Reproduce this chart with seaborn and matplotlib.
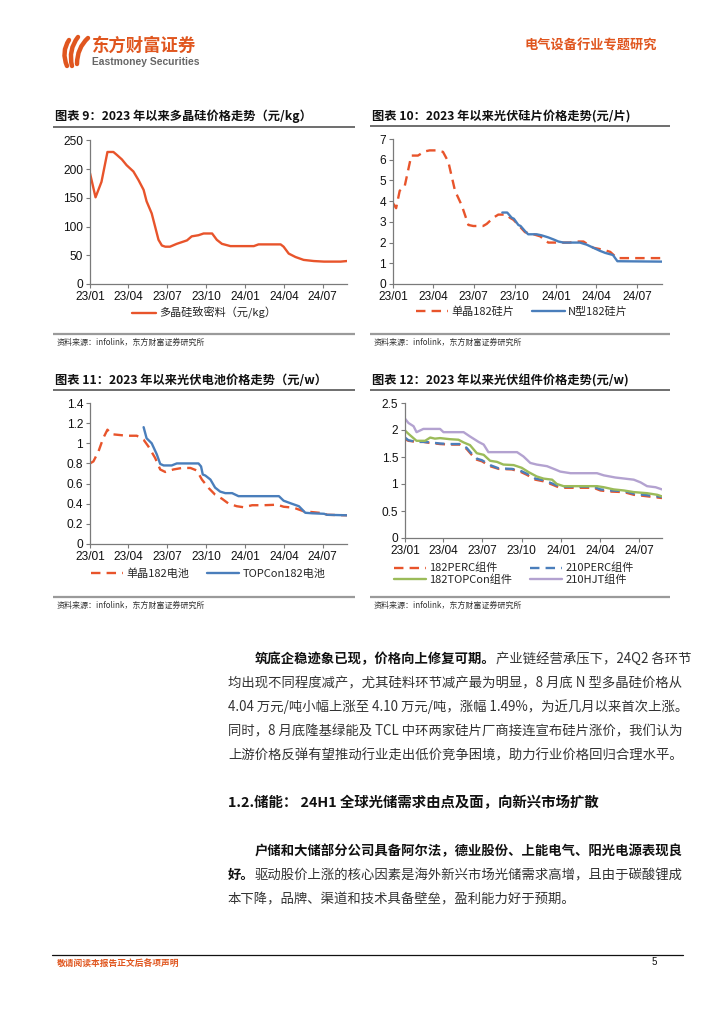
import matplotlib
matplotlib.use('Agg')
import matplotlib.pyplot as plt
import matplotlib.dates as mdates
from matplotlib.path import Path
from matplotlib.patches import PathPatch
import pandas as pd
import seaborn as sns

# ---------------- data ----------------
poly_dates = ['2023-01-01', '2023-01-14', '2023-01-28', '2023-02-11', '2023-02-25', '2023-03-05',
              '2023-03-17', '2023-03-28', '2023-04-13', '2023-04-25', '2023-05-07', '2023-05-14',
              '2023-05-26', '2023-06-03', '2023-06-11', '2023-06-19', '2023-06-27', '2023-07-08',
              '2023-07-24', '2023-08-17', '2023-08-28', '2023-09-13', '2023-09-25', '2023-10-15',
              '2023-10-26', '2023-11-07', '2023-11-27', '2024-01-21', '2024-02-01', '2024-03-24',
              '2024-03-31', '2024-04-12', '2024-04-28', '2024-05-17', '2024-06-10', '2024-07-04',
              '2024-08-12', '2024-08-27']
poly_price = [193, 151, 178, 230, 230, 225, 217, 207, 196, 181, 164, 144, 123, 100, 77, 67, 65, 65,
              70, 76, 83, 85, 88, 88, 77, 70, 66, 66, 69, 69, 65, 53, 47, 42, 40, 39, 39, 40]

wafer_p_dates = ['2023-01-01', '2023-01-08', '2023-01-16', '2023-01-27', '2023-02-11', '2023-02-26',
                 '2023-03-13', '2023-03-24', '2023-04-08', '2023-04-23', '2023-05-05', '2023-05-20',
                 '2023-06-04', '2023-06-19', '2023-06-30', '2023-07-22', '2023-07-30', '2023-08-14',
                 '2023-08-25', '2023-09-13', '2023-09-20', '2023-09-28', '2023-10-09', '2023-10-24',
                 '2023-11-12', '2023-11-27', '2023-12-15', '2024-01-03', '2024-02-02', '2024-02-09',
                 '2024-03-03', '2024-03-10', '2024-03-25', '2024-04-17', '2024-05-02', '2024-05-17',
                 '2024-08-26']
wafer_p_price = [3.9, 3.66, 4.5, 4.7, 6.2, 6.2, 6.4, 6.45, 6.45, 6.38, 5.9, 4.5, 3.8, 2.85, 2.8, 2.8,
                 2.9, 3.2, 3.35, 3.35, 3.2, 3.1, 2.85, 2.5, 2.4, 2.3, 2.0, 2.0, 2.0, 2.05, 2.05, 1.95,
                 1.75, 1.65, 1.55, 1.25, 1.25]
wafer_n_dates = ['2023-09-03', '2023-09-14', '2023-09-24', '2023-09-29', '2023-10-09', '2023-10-14',
                 '2023-10-24', '2023-10-31', '2023-11-19', '2023-11-30', '2023-12-15', '2023-12-27',
                 '2024-01-07', '2024-01-18', '2024-02-24', '2024-03-10', '2024-03-25', '2024-04-09',
                 '2024-04-21', '2024-05-08', '2024-05-18', '2024-08-26']
wafer_n_price = [3.45, 3.45, 3.2, 3.15, 2.85, 2.8, 2.55, 2.4, 2.4, 2.35, 2.25, 2.15, 2.05, 2.0, 2.0,
                 1.9, 1.75, 1.6, 1.5, 1.4, 1.1, 1.08]

cell_p_dates = ['2023-01-01', '2023-01-09', '2023-01-21', '2023-02-01', '2023-02-11', '2023-02-21',
                '2023-03-05', '2023-03-28', '2023-04-21', '2023-05-07', '2023-05-18', '2023-06-03',
                '2023-06-15', '2023-06-27', '2023-07-16', '2023-08-05', '2023-08-25', '2023-09-09',
                '2023-09-21', '2023-10-07', '2023-10-22', '2023-11-07', '2023-11-23', '2023-12-12',
                '2023-12-28', '2024-01-17', '2024-02-13', '2024-03-16', '2024-03-31', '2024-04-24',
                '2024-05-17', '2024-07-04', '2024-07-11', '2024-08-27']
cell_p_price = [0.80, 0.82, 0.92, 1.05, 1.135, 1.09, 1.085, 1.075, 1.075, 1.035, 0.97, 0.855, 0.74,
                0.715, 0.74, 0.755, 0.755, 0.73, 0.64, 0.555, 0.49, 0.45, 0.40, 0.375, 0.365, 0.385,
                0.385, 0.39, 0.37, 0.36, 0.325, 0.305, 0.29, 0.285]
cell_t_dates = ['2023-05-07', '2023-05-14', '2023-05-26', '2023-06-07', '2023-06-15', '2023-06-23',
                '2023-07-12', '2023-07-24', '2023-09-13', '2023-09-19', '2023-09-23', '2023-09-29',
                '2023-10-11', '2023-10-22', '2023-11-03', '2023-11-15', '2023-12-01', '2023-12-16',
                '2024-01-01', '2024-03-20', '2024-03-31', '2024-04-16', '2024-05-06', '2024-05-21',
                '2024-06-06', '2024-07-04', '2024-07-11', '2024-08-27']
cell_t_price = [1.16, 1.05, 1.0, 0.89, 0.795, 0.78, 0.78, 0.80, 0.80, 0.77, 0.69, 0.68, 0.64, 0.56,
                0.52, 0.505, 0.505, 0.475, 0.475, 0.475, 0.43, 0.405, 0.375, 0.31, 0.305, 0.30, 0.29,
                0.285]

perc_dates = ['2023-01-01', '2023-01-09', '2023-01-28', '2023-02-13', '2023-03-01', '2023-03-24',
              '2023-04-16', '2023-05-10', '2023-05-25', '2023-06-06', '2023-06-18', '2023-06-30',
              '2023-07-19', '2023-08-08', '2023-09-08', '2023-09-27', '2023-10-13', '2023-11-02',
              '2023-11-21', '2023-12-11', '2023-12-26', '2024-01-07', '2024-03-17', '2024-04-02',
              '2024-04-25', '2024-05-27', '2024-06-19', '2024-07-12', '2024-08-13', '2024-08-24']
perc182_price = [1.83, 1.80, 1.78, 1.78, 1.76, 1.74, 1.73, 1.73, 1.65, 1.54, 1.45, 1.42, 1.33, 1.28,
                 1.27, 1.23, 1.17, 1.08, 1.05, 0.99, 0.94, 0.93, 0.93, 0.88, 0.86, 0.85, 0.80, 0.78,
                 0.75, 0.74]
perc210_price = [1.86, 1.81, 1.78, 1.78, 1.77, 1.75, 1.74, 1.74, 1.67, 1.56, 1.47, 1.44, 1.35, 1.29,
                 1.28, 1.25, 1.19, 1.10, 1.07, 1.01, 0.96, 0.95, 0.95, 0.90, 0.88, 0.87, 0.82, 0.80,
                 0.77, 0.76]
topcon_dates = ['2023-01-01', '2023-01-09', '2023-01-28', '2023-02-17', '2023-03-01', '2023-03-12',
                '2023-03-24', '2023-04-16', '2023-05-06', '2023-05-18', '2023-06-02', '2023-06-18',
                '2023-07-04', '2023-07-19', '2023-08-04', '2023-08-19', '2023-09-12', '2023-10-01',
                '2023-10-17', '2023-11-05', '2023-11-21', '2023-12-11', '2023-12-22', '2024-01-07',
                '2024-03-25', '2024-04-10', '2024-05-03', '2024-05-27', '2024-06-19', '2024-07-20',
                '2024-08-13', '2024-08-24']
topcon_price = [1.99, 1.93, 1.80, 1.80, 1.86, 1.84, 1.85, 1.83, 1.82, 1.77, 1.72, 1.57, 1.54, 1.43,
                1.41, 1.36, 1.35, 1.30, 1.22, 1.14, 1.10, 1.08, 1.00, 0.96, 0.96, 0.94, 0.90, 0.88,
                0.85, 0.83, 0.80, 0.77]
hjt_dates = ['2023-01-01', '2023-01-09', '2023-01-21', '2023-01-28', '2023-02-13', '2023-03-24',
             '2023-04-01', '2023-05-18', '2023-06-02', '2023-06-22', '2023-07-04', '2023-07-15',
             '2023-09-20', '2023-10-05', '2023-10-21', '2023-11-05', '2023-11-29', '2023-12-18',
             '2023-12-30', '2024-01-23', '2024-03-25', '2024-04-10', '2024-05-07', '2024-06-19',
             '2024-07-05', '2024-07-20', '2024-08-09', '2024-08-24']
hjt_price = [2.21, 2.13, 2.07, 1.96, 2.02, 2.02, 1.96, 1.96, 1.88, 1.78, 1.73, 1.59, 1.59, 1.51, 1.39,
             1.36, 1.33, 1.27, 1.23, 1.20, 1.20, 1.16, 1.12, 1.08, 1.03, 0.96, 0.94, 0.90]

para1 = ['均出现不同程度减产，尤其硅料环节减产最为明显，8 月底 N 型多晶硅价格从',
         '4.04 万元/吨小幅上涨至 4.10 万元/吨，涨幅 1.49%，为近几月以来首次上涨。',
         '同时，8 月底隆基绿能及 TCL 中环两家硅片厂商接连宣布硅片涨价，我们认为',
         '上游价格反弹有望推动行业走出低价竞争困境，助力行业价格回归合理水平。']

# ---------------- style ----------------
ORANGE = '#E8542B'
BLUE = '#4A7EBB'
GREEN = '#9BBB59'
PURPLE = '#B3A2D0'
CJK = ['Noto Sans CJK SC', 'DejaVu Sans']
LATIN = ['Liberation Sans', 'DejaVu Sans']

sns.set_theme(style='ticks')
plt.rcParams['font.family'] = CJK
plt.rcParams['axes.unicode_minus'] = False

fig = plt.figure(figsize=(7.24, 10.24), dpi=100)
bg = fig.add_axes([0, 0, 1, 1], zorder=-1)
bg.set_xlim(0, 724)
bg.set_ylim(1024, 0)
bg.axis('off')


def px_axes(l, t, r, b):
    return fig.add_axes([l / 724, 1 - b / 1024, (r - l) / 724, (b - t) / 1024])


def draw(ax, series, yticks, xend):
    for label, dates, vals, color, dashed in series:
        df = pd.DataFrame({'date': pd.to_datetime(dates), 'price': vals})
        sns.lineplot(data=df, x='date', y='price', ax=ax, color=color, lw=1.7, label=label)
        if dashed:
            ax.lines[-1].set_dashes((4, 2.6))
    ax.set_xlim(pd.Timestamp('2023-01-01'), pd.Timestamp(xend))
    ax.set_ylim(yticks[0], yticks[-1])
    ax.set_yticks(yticks)
    ax.set_yticklabels(['{:g}'.format(v) for v in yticks])
    ax.xaxis.set_major_locator(mdates.MonthLocator(bymonth=[1, 4, 7, 10]))
    ax.xaxis.set_major_formatter(mdates.DateFormatter('%y/%m'))
    ax.set_xlabel('')
    ax.set_ylabel('')
    ax.set_facecolor('none')
    sns.despine(ax=ax)
    for s in ('left', 'bottom'):
        ax.spines[s].set_color('#7a7a7a')
        ax.spines[s].set_linewidth(0.9)
    ax.tick_params(length=3, width=0.8, color='#7a7a7a', labelsize=8.6, pad=2, labelcolor='#111')
    for t in ax.get_xticklabels() + ax.get_yticklabels():
        t.set_fontfamily(LATIN)
        t.set_fontsize(8.6)
    ax.get_legend().remove()


def legend(ax, order, cx, cy, ncol, hl):
    h, l = ax.get_legend_handles_labels()
    ax.legend([h[i] for i in order], [l[i] for i in order], loc='center',
              bbox_to_anchor=(cx, cy), bbox_transform=bg.transData, ncol=ncol,
              frameon=False, fontsize=8, handlelength=hl, handletextpad=0.3,
              columnspacing=1.6, labelspacing=0.1, borderpad=0)


def block(x1, x2, ty, title, ly, sy):
    bg.text(x1 + 2, ty, title, fontsize=8.8, fontweight='bold', va='center', color='#111')
    bg.plot([x1, x2], [ly, ly], color='#6e6e6e', lw=1.4, solid_capstyle='butt')
    bg.plot([x1, x2], [sy - 8, sy - 8], color='#9a9a9a', lw=1.6, solid_capstyle='butt')
    bg.text(x1 + 4, sy, '资料来源：infolink，东方财富证券研究所', fontsize=5.8, va='center', color='#333')


# chart 9
ax1 = px_axes(90, 140.5, 347, 284)
draw(ax1, [('多晶硅致密料（元/kg）', poly_dates, poly_price, ORANGE, False)],
     [0, 50, 100, 150, 200, 250], '2024-08-27')
legend(ax1, [0], 204, 313, 1, 2.2)
block(53, 355, 116, '图表 9：2023 年以来多晶硅价格走势（元/kg）', 127, 342)

# chart 10
ax2 = px_axes(393, 139, 662, 284)
draw(ax2, [('单晶182硅片', wafer_p_dates, wafer_p_price, ORANGE, True),
           ('N型182硅片', wafer_n_dates, wafer_n_price, BLUE, False)],
     [0, 1, 2, 3, 4, 5, 6, 7], '2024-08-26')
legend(ax2, [0, 1], 522, 312, 2, 2.9)
block(370, 670, 116, '图表 10：2023 年以来光伏硅片价格走势(元/片)', 126, 342)

# chart 11
ax3 = px_axes(90, 403, 347, 544)
draw(ax3, [('单晶182电池', cell_p_dates, cell_p_price, ORANGE, True),
           ('TOPCon182电池', cell_t_dates, cell_t_price, BLUE, False)],
     [0, 0.2, 0.4, 0.6, 0.8, 1, 1.2, 1.4], '2024-08-27')
legend(ax3, [0, 1], 208, 574, 2, 2.9)
block(53, 355, 381, '图表 11：2023 年以来光伏电池价格走势（元/w）', 390, 605)

# chart 12
ax4 = px_axes(405, 403, 662, 538)
draw(ax4, [('182PERC组件', perc_dates, perc182_price, ORANGE, True),
           ('210PERC组件', perc_dates, perc210_price, BLUE, True),
           ('182TOPCon组件', topcon_dates, topcon_price, GREEN, False),
           ('210HJT组件', hjt_dates, hjt_price, PURPLE, False)],
     [0, 0.5, 1, 1.5, 2, 2.5], '2024-08-24')
legend(ax4, [0, 2, 1, 3], 514, 574, 2, 2.9)
block(370, 670, 381, '图表 12：2023 年以来光伏组件价格走势(元/w)', 390, 605)

# ---------------- page header ----------------
for pts in ([(67, 66), (61, 52), (69, 40)], [(72, 66), (68, 50), (78, 37)], [(77, 64), (77, 48), (88, 38)]):
    bg.add_patch(PathPatch(Path(pts, [Path.MOVETO, Path.CURVE3, Path.CURVE3]), fill=False,
                           ec='#E0561F', lw=3.2, capstyle='round'))
bg.text(92, 46, '东方财富证券', fontsize=12.5, fontweight='bold', color='#E0561F', va='center')
bg.text(92, 62, 'Eastmoney Securities', fontsize=7.4, color='#666', va='center',
        fontfamily=LATIN, fontweight='bold')
bg.text(657, 45, '电气设备行业专题研究', fontsize=9.5, fontweight='bold', color='#E0561F',
        va='center', ha='right')

# ---------------- body text ----------------
FS = 9.6
t = bg.text(255, 659, '筑底企稳迹象已现，价格向上修复可期。', fontsize=FS, fontweight='bold',
            va='center', color='#111')
bg.annotate('产业链经营承压下，24Q2 各环节', xy=(1, 0.5), xycoords=t, va='center',
            fontsize=FS, color='#333')
for i, line in enumerate(para1):
    bg.text(228, 683 + 24 * i, line, fontsize=FS, va='center', color='#333')

bg.text(228, 803, '1.2.储能： 24H1 全球光储需求由点及面，向新兴市场扩散', fontsize=10.4,
        fontweight='bold', va='center', color='#111')

bg.text(255, 851, '户储和大储部分公司具备阿尔法，德业股份、上能电气、阳光电源表现良',
        fontsize=FS, fontweight='bold', va='center', color='#111')
t2 = bg.text(228, 875, '好。', fontsize=FS, fontweight='bold', va='center', color='#111')
bg.annotate('驱动股价上涨的核心因素是海外新兴市场光储需求高增，且由于碳酸锂成', xy=(1, 0.5),
            xycoords=t2, va='center', fontsize=FS, color='#333')
bg.text(228, 899, '本下降，品牌、渠道和技术具备壁垒，盈利能力好于预期。', fontsize=FS,
        va='center', color='#333')

# ---------------- footer ----------------
bg.plot([52, 683], [955, 955], color='#111', lw=0.9)
bg.text(57, 964, '敬请阅读本报告正文后各项声明', fontsize=6.3, fontweight='bold', color='#E0561F',
        va='center')
bg.text(652, 962, '5', fontsize=7, color='#111', va='center', fontfamily=LATIN)

fig.savefig('out.png', dpi=100)
